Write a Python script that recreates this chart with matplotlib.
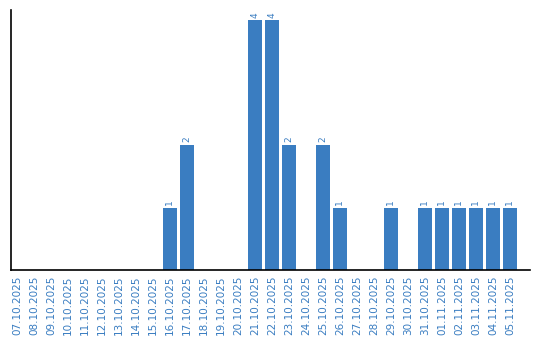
import matplotlib
matplotlib.use("Agg")
import matplotlib.pyplot as plt
import numpy as np

dates = ["07.10.2025", "08.10.2025", "09.10.2025", "10.10.2025", "11.10.2025",
         "12.10.2025", "13.10.2025", "14.10.2025", "15.10.2025", "16.10.2025",
         "17.10.2025", "18.10.2025", "19.10.2025", "20.10.2025", "21.10.2025",
         "22.10.2025", "23.10.2025", "24.10.2025", "25.10.2025", "26.10.2025",
         "27.10.2025", "28.10.2025", "29.10.2025", "30.10.2025", "31.10.2025",
         "01.11.2025", "02.11.2025", "03.11.2025", "04.11.2025", "05.11.2025"]
counts = [0, 0, 0, 0, 0, 0, 0, 0, 0, 1,
          2, 0, 0, 0, 4, 4, 2, 0, 2, 1,
          0, 0, 1, 0, 1, 1, 1, 1, 1, 1]

blue = "#3a7dc1"
fig = plt.figure(figsize=(5.4, 3.4), dpi=100)
ax = fig.add_axes([11/540, 1-270/340, 519/540, 260/340])
x = np.arange(len(dates))
bars = ax.bar(x, counts, width=0.82, color=blue)
for xi, v in zip(x, counts):
    if v > 0:
        ax.text(xi, v + 0.04, str(v), rotation=90, ha="center", va="bottom",
                color=blue, fontsize=6.5)
ax.set_xlim(-0.35, 30.18)
ax.set_ylim(0, 4.16)
ax.set_xticks(x)
ax.set_xticklabels(dates, rotation=90, color=blue, fontsize=7.5)
ax.tick_params(axis="x", length=0, pad=4)
ax.set_yticks([])
for s in ["top", "right"]:
    ax.spines[s].set_visible(False)
ax.spines["left"].set_linewidth(1.2)
ax.spines["bottom"].set_linewidth(1.2)
fig.savefig("out.png", dpi=100)
